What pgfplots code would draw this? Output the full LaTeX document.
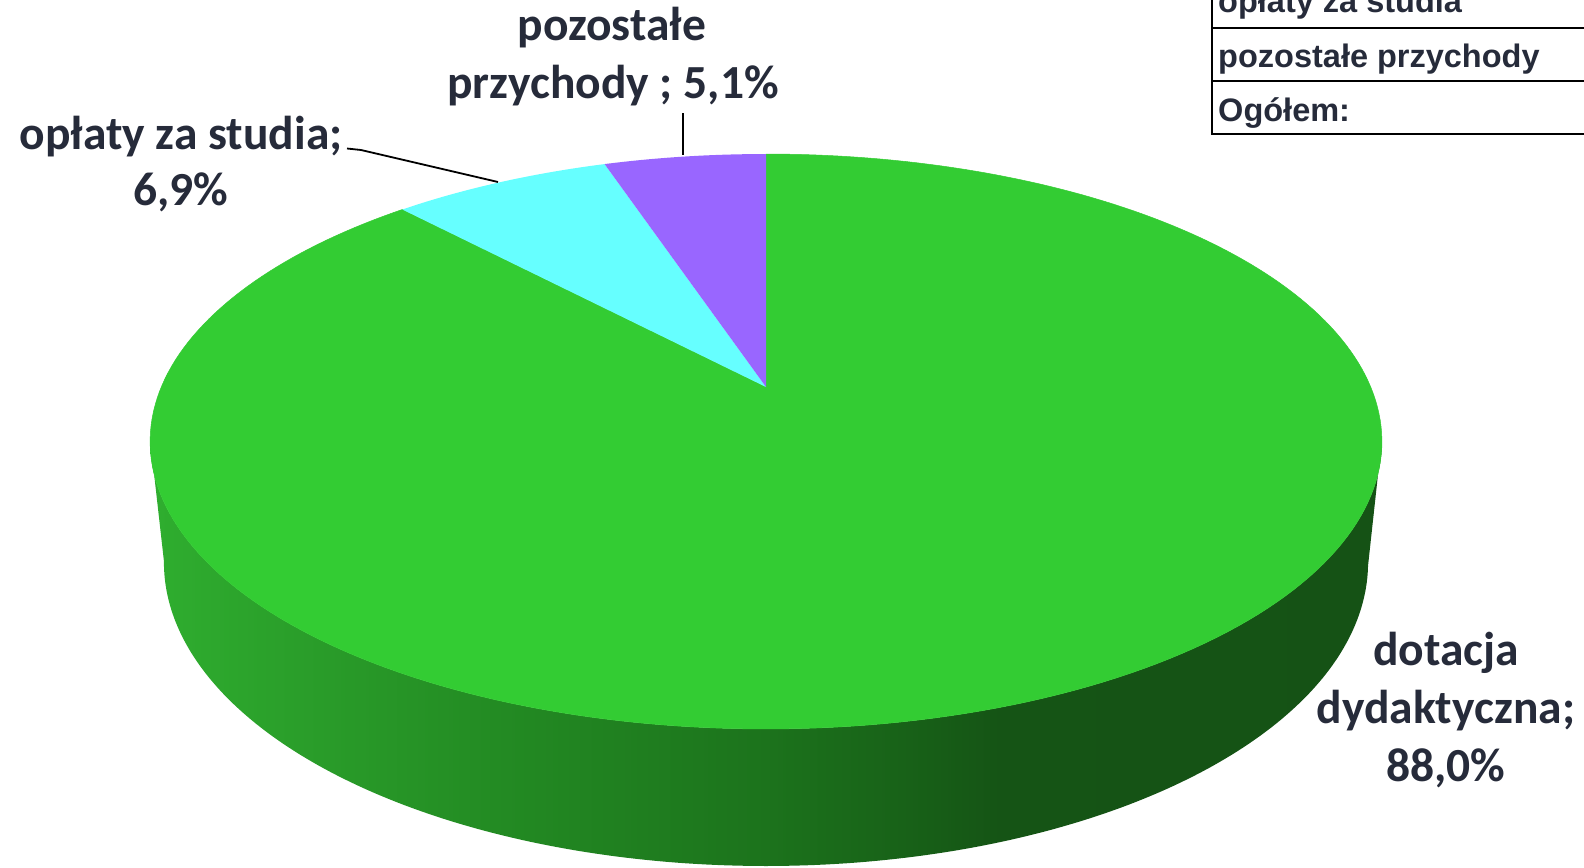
\documentclass[border=0pt]{standalone}
\usepackage{pgfplots}
\pgfplotsset{compat=1.18}
\usepackage{pgfplotstable}
\usepackage{fontspec}
\setmainfont{Carlito}
\newfontfamily\arialfont{Liberation Sans}
\definecolor{txt}{HTML}{262B3A}
\definecolor{gTop}{HTML}{33CC33}
\definecolor{cyanS}{HTML}{66FFFF}
\definecolor{purpS}{HTML}{9966FF}
\definecolor{wa}{RGB}{47,174,47}
\definecolor{wb}{RGB}{42,158,42}
\definecolor{wc}{RGB}{35,139,35}
\definecolor{wd}{RGB}{28,115,28}
\definecolor{we}{RGB}{24,98,24}
\definecolor{wf}{RGB}{21,84,21}
\definecolor{wg}{RGB}{21,82,21}
\pgfdeclarehorizontalshading{wall}{100bp}{color(0bp)=(wa); color(25bp)=(wa); color(31bp)=(wb); color(39bp)=(wc); color(50bp)=(wd); color(55.5bp)=(we); color(59.5bp)=(wf); color(75bp)=(wg); color(100bp)=(wg)}

\pgfplotstableread{
name value
dotacja 88.0
oplaty 6.9
pozostale 5.1
}\shares
\pgfplotstablegetelem{0}{value}\of\shares \let\vA\pgfplotsretval
\pgfplotstablegetelem{1}{value}\of\shares \let\vB\pgfplotsretval
\pgfplotstablegetelem{2}{value}\of\shares \let\vC\pgfplotsretval
\pgfmathsetmacro\aC{90+3.6*\vC}
\pgfmathsetmacro\aB{\aC+3.6*\vB}
\pgfmathsetmacro\aA{\aB+3.6*\vA}

\begin{document}
\begin{tikzpicture}
\begin{axis}[
  at={(0,0)}, anchor=south west,
  width=1584pt, height=867pt, scale only axis, hide axis,
  xmin=0, xmax=1584, ymin=0, ymax=867, y dir=reverse, clip=false,
  declare function={
    wallang(\s)=(\s<=1)*(190.5+159*\s)+(\s>1)*(349.5-159*(\s-1));
    wallh(\s)=(\s>1)*0.2263;
    rimden(\t,\h)=4.688+0.4583*\h+0.8888*sin(\t);
    rimx(\t,\h)=766+2835*cos(\t)/rimden(\t,\h);
    rimy(\t,\h)=387-2835*(0.4583*sin(\t)-0.8888*\h)/rimden(\t,\h);
  },
]
% side wall
\addplot[shade, shading=wall, draw=none, domain=0:2, samples=401]
  ({rimx(wallang(x),wallh(x))},{rimy(wallang(x),wallh(x))}) -- cycle;
% top faces
\addplot[fill=gTop, draw=gTop, line width=0.5pt, domain=\aB:\aA, samples=240, variable=\t]
  ({rimx(\t,0)},{rimy(\t,0)}) -- (axis cs:766,387) -- cycle;
\addplot[fill=cyanS, draw=none, domain=\aC:\aB, samples=40, variable=\t]
  ({rimx(\t,0)},{rimy(\t,0)}) -- (axis cs:766,387) -- cycle;
\addplot[fill=purpS, draw=none, domain=90:\aC, samples=40, variable=\t]
  ({rimx(\t,0)},{rimy(\t,0)}) -- (axis cs:766,387) -- cycle;
% leader lines
\addplot[black, line width=1.8pt] coordinates {(683,113) (683,155)};
\addplot[black, line width=1.8pt] coordinates {(347,148.5) (361,150) (498,182)};
% labels
\begin{scope}[every node/.style={anchor=base, text=txt, font=\fontsize{47.5}{58}\selectfont\bfseries, inner sep=0pt}]
\node at (axis cs:612,41) {pozostałe};
\node at (axis cs:613,98) {przychody ; 5,1\%};
\node at (axis cs:181,149) {opłaty za studia;};
\node at (axis cs:181,205) {6,9\%};
\node at (axis cs:1446,665) {dotacja};
\node at (axis cs:1446,723) {dydaktyczna;};
\node at (axis cs:1446,781) {88,0\%};
\end{scope}
% table
\draw[black, line width=2.3pt] (axis cs:1212,-10) -- (axis cs:1212,135);
\draw[black, line width=2.3pt] (axis cs:1211,28) -- (axis cs:1600,28);
\draw[black, line width=2.3pt] (axis cs:1211,81) -- (axis cs:1600,81);
\draw[black, line width=2.3pt] (axis cs:1211,134) -- (axis cs:1600,134);
\begin{scope}[every node/.style={anchor=base west, text=txt, font=\arialfont\fontsize{32.5}{38}\selectfont\bfseries, inner sep=0pt}]
\node at (axis cs:1218,13) {opłaty za studia};
\node at (axis cs:1218,67) {pozostałe przychody};
\node at (axis cs:1218,121) {Ogółem:};
\end{scope}
\end{axis}
\pgfresetboundingbox
\useasboundingbox (0,0) rectangle (1584pt,867pt);
\end{tikzpicture}
\end{document}
